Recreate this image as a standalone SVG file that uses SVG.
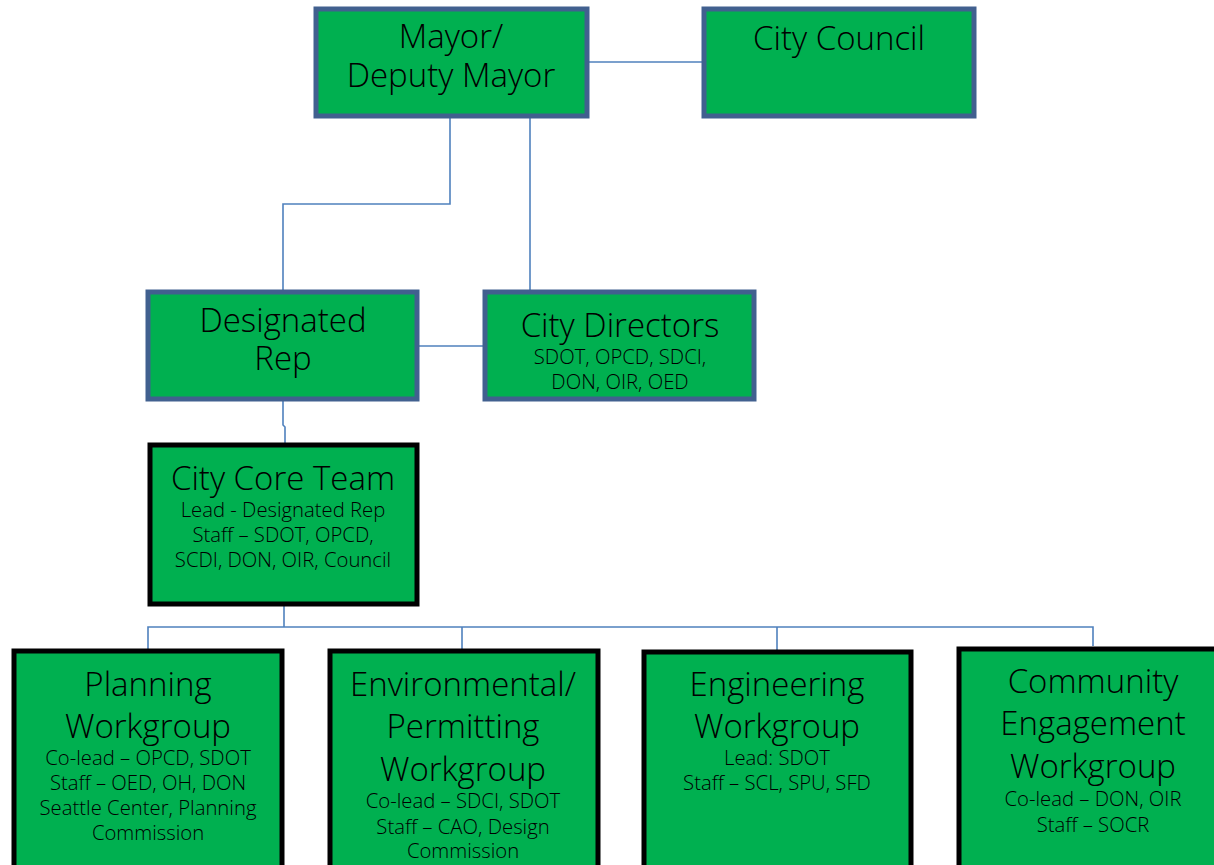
<svg xmlns="http://www.w3.org/2000/svg" width="1214" height="865" viewBox="0 0 1214 865">
<style>
.bg{fill:#ffffff}
.nb{fill:#00B050;stroke:#41608F;stroke-width:5}
.nk{fill:#00B050;stroke:#000000;stroke-width:5}
.c{fill:none;stroke:#4F81BD;stroke-width:1.6}
text{font-family:"Open Sans","Noto Sans",sans-serif;font-weight:300;fill:#000;text-anchor:middle}
.t{font-size:33px}
.s{font-size:20.3px}
</style>
<rect class="bg" x="0" y="0" width="1214" height="865"/>
<g id="connectors">
<path class="c" d="M589 62H702"/>
<path class="c" d="M450 118V204H283V290"/>
<path class="c" d="M530 118V290"/>
<path class="c" d="M419 346H483"/>
<path class="c" d="M283 401V425L285 427V443"/>
<path class="c" d="M284 606V627"/>
<path class="c" d="M148 649V627H1093V646"/>
<path class="c" d="M462 627V649"/>
<path class="c" d="M777 627V650"/>
</g>
<g id="mayor">
<rect class="nb" x="316" y="9" width="271" height="107"/>
<text class="t" x="451" y="48">Mayor/</text>
<text class="t" x="451" y="87">Deputy Mayor</text>
</g>
<g id="council">
<rect class="nb" x="704" y="9" width="270" height="107"/>
<text class="t" x="839" y="50">City Council</text>
</g>
<g id="designated-rep">
<rect class="nb" x="148" y="292" width="269" height="107"/>
<text class="t" x="283" y="332">Designated</text>
<text class="t" x="283" y="370">Rep</text>
</g>
<g id="city-directors">
<rect class="nb" x="485" y="292" width="269" height="107"/>
<text class="t" x="620" y="337">City Directors</text>
<text class="s" x="620" y="364">SDOT, OPCD, SDCI,</text>
<text class="s" x="620" y="389">DON, OIR, OED</text>
</g>
<g id="core-team">
<rect class="nk" x="150" y="445" width="267" height="159"/>
<text class="t" x="283" y="490">City Core Team</text>
<text class="s" x="283" y="517">Lead - Designated Rep</text>
<text class="s" x="283" y="542">Staff – SDOT, OPCD,</text>
<text class="s" x="283" y="567">SCDI, DON, OIR, Council</text>
</g>
<g id="planning">
<rect class="nk" x="14" y="651" width="268" height="220"/>
<text class="t" x="148" y="696">Planning</text>
<text class="t" x="148" y="738">Workgroup</text>
<text class="s" x="148" y="765">Co-lead – OPCD, SDOT</text>
<text class="s" x="148" y="790">Staff – OED, OH, DON</text>
<text class="s" x="148" y="815">Seattle Center, Planning</text>
<text class="s" x="148" y="840">Commission</text>
</g>
<g id="environmental">
<rect class="nk" x="330" y="651" width="268" height="220"/>
<text class="t" x="463" y="696">Environmental/</text>
<text class="t" x="463" y="738">Permitting</text>
<text class="t" x="463" y="781">Workgroup</text>
<text class="s" x="463" y="808">Co-lead – SDCI, SDOT</text>
<text class="s" x="463" y="834">Staff – CAO, Design</text>
<text class="s" x="463" y="858">Commission</text>
</g>
<g id="engineering">
<rect class="nk" x="644" y="652" width="267" height="220"/>
<text class="t" x="777" y="696">Engineering</text>
<text class="t" x="777" y="738">Workgroup</text>
<text class="s" x="777" y="765">Lead: SDOT</text>
<text class="s" x="777" y="790">Staff – SCL, SPU, SFD</text>
</g>
<g id="community">
<rect class="nk" x="959" y="649" width="270" height="222"/>
<text class="t" x="1093" y="693">Community</text>
<text class="t" x="1093" y="735">Engagement</text>
<text class="t" x="1093" y="778">Workgroup</text>
<text class="s" x="1093" y="806">Co-lead – DON, OIR</text>
<text class="s" x="1093" y="832">Staff – SOCR</text>
</g>
</svg>
